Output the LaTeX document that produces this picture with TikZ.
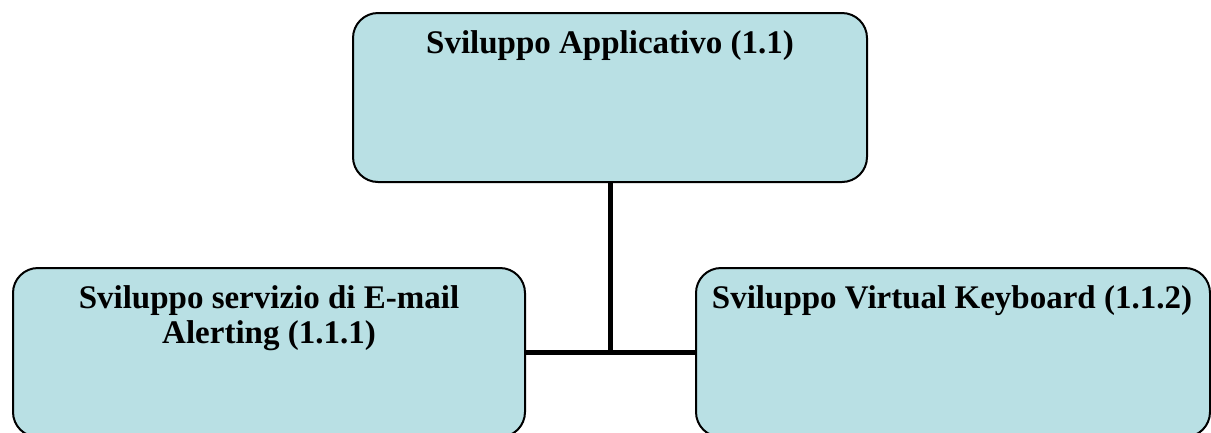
\documentclass[tikz,border=0pt]{standalone}
\usepackage{fontspec}
\setmainfont{Liberation Serif}
\definecolor{boxfill}{RGB}{185,224,228}
\begin{document}
\begin{tikzpicture}[x=1pt,y=-1pt,
  wbsbox/.style={draw=black, line width=2pt, fill=boxfill, rounded corners=25pt,
    minimum width=#1, minimum height=169pt, inner sep=0pt},
  wbstext/.style={font=\fontsize{33}{35}\selectfont\bfseries, align=center,
    inner sep=0pt, anchor=base},
  link/.style={draw=black, line width=5pt}]
  \useasboundingbox (0,0) rectangle (1211,432);
  % work packages
  \node[wbsbox=514pt] (app) at (610,97.5) {};
  \node[wbsbox=512pt] (mail) at (269,352.5) {};
  \node[wbsbox=514pt] (kbd) at (953,352.5) {};
  % titles (base anchor sits on the last line)
  \node[wbstext] (appt) at (610,53) {Sviluppo Applicativo (1.1)};
  \node[wbstext] (mailt) at (269,343) {Sviluppo servizio di E-mail\\Alerting (1.1.1)};
  \node[wbstext] (kbdt) at (952,308) {Sviluppo Virtual Keyboard (1.1.2)};
  % tree connectors
  \coordinate (j) at (610,352);
  \draw[link] (app.south) -- (j);
  \draw[link] (mail.east |- j) -- (kbd.west |- j);
\end{tikzpicture}
\end{document}
